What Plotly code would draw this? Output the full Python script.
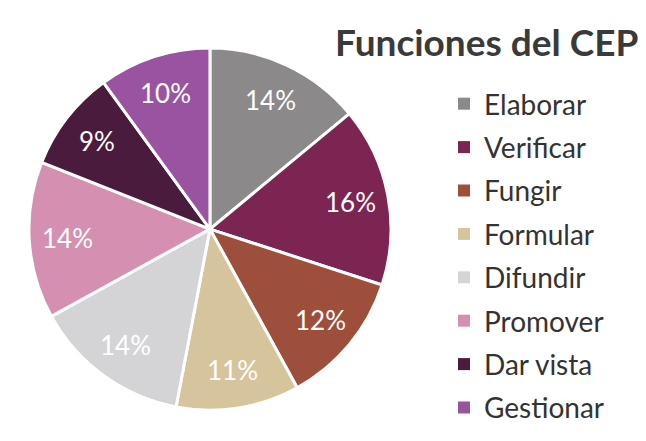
import math
import plotly.graph_objects as go

labels = ["Elaborar", "Verificar", "Fungir", "Formular", "Difundir", "Promover", "Dar vista", "Gestionar"]
values = [14, 16, 12, 11, 14, 14, 9, 10]
colors = ["#8b898a", "#7c2552", "#9d4f3b", "#d6c59c", "#d4d4d6", "#d590b1", "#4b1b3d", "#9a53a0"]

W, H = 646, 441
dom_x = [0.043, 0.607]
dom_y = [0.07, 0.891]

fig = go.Figure()
fig.add_trace(go.Pie(
    labels=labels, values=values, sort=False, direction="clockwise", rotation=0,
    marker=dict(colors=colors, line=dict(color="white", width=3)),
    textinfo="none",
    domain=dict(x=dom_x, y=dom_y),
    showlegend=False, hoverinfo="label+percent",
))
for lab, col in zip(labels, colors):
    fig.add_trace(go.Scatter(
        x=[None], y=[None], mode="markers", name=lab, legendgroup=lab,
        marker=dict(symbol="square", size=13, color=col),
        showlegend=True,
    ))

# percent labels placed along each slice's mid-angle
cx = (dom_x[0] + dom_x[1]) / 2 * W
cy = (1 - (dom_y[0] + dom_y[1]) / 2) * H
R = min((dom_x[1] - dom_x[0]) * W, (dom_y[1] - dom_y[0]) * H) / 2
total = sum(values)
annotations = []
cum = 0
for v in values:
    mid = (cum + v / 2) / total * 2 * math.pi
    cum += v
    px = cx + 0.79 * R * math.sin(mid)
    py = cy - 0.79 * R * math.cos(mid)
    annotations.append(dict(text=f"{round(v / total * 100)}%", x=px / W, y=1 - py / H,
                            xref="paper", yref="paper", xanchor="center", yanchor="middle",
                            showarrow=False,
                            font=dict(family="Lato", size=26, color="white")))
annotations.append(dict(text="<b>Funciones del CEP</b>", x=0.99, y=0.905, xref="paper", yref="paper",
                        xanchor="right", yanchor="middle", showarrow=False,
                        font=dict(family="Lato", size=37, color="#3a3a3a")))

fig.update_layout(
    width=W, height=H,
    margin=dict(l=0, r=0, t=0, b=0, autoexpand=False),
    paper_bgcolor="white", plot_bgcolor="white",
    xaxis=dict(visible=False), yaxis=dict(visible=False),
    legend=dict(x=444 / W, y=1 - 79 / H, xanchor="left", yanchor="top",
                font=dict(family="Lato", size=28, color="#333333"),
                tracegroupgap=4, itemsizing="constant", bgcolor="rgba(0,0,0,0)",
                maxheight=1.0),
    annotations=annotations,
)
fig.write_html("out.html", config={"displayModeBar": False},
               post_script="document.body.style.margin='0';document.body.style.overflow='hidden';")
